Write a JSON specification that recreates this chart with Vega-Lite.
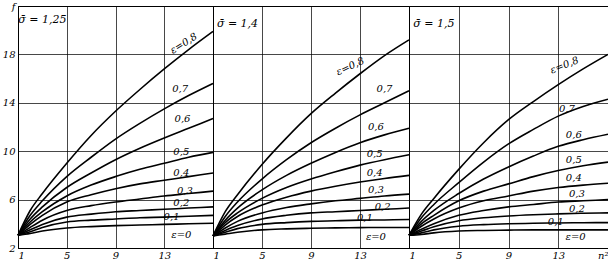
{
 "$schema": "https://vega.github.io/schema/vega-lite/v6.json",
 "padding": {"left": 1, "top": 0, "right": 1, "bottom": 0},
 "bounds": "flush",
 "background": "white",
 "spacing": 0,
 "config": {
  "view": {"stroke": "black", "strokeWidth": 1},
  "font": "DejaVu Serif",
  "axis": {"grid": true, "gridColor": "black", "gridWidth": 0.8, "gridOpacity": 0.9, "ticks": false, "domainColor": "black", "labelColor": "black", "labelFont": "DejaVu Serif", "labelFontStyle": "italic", "labelFontSize": 10, "title": null, "labelPadding": 3, "minExtent": 0},
  "axisX": {"labelPadding": 2}
 },
 "datasets": {
  "c": [
   {"p":1,"e":0.8,"x":1,"f":3.05},{"p":1,"e":0.8,"x":2,"f":5.1},{"p":1,"e":0.8,"x":3,"f":6.5},{"p":1,"e":0.8,"x":5,"f":9.0},{"p":1,"e":0.8,"x":7,"f":11.3},{"p":1,"e":0.8,"x":9,"f":13.3},{"p":1,"e":0.8,"x":11,"f":15.1},{"p":1,"e":0.8,"x":13,"f":16.8},{"p":1,"e":0.8,"x":15,"f":18.4},{"p":1,"e":0.8,"x":17,"f":19.9},
   {"p":1,"e":0.7,"x":1,"f":3.05},{"p":1,"e":0.7,"x":2,"f":4.7},{"p":1,"e":0.7,"x":3,"f":5.9},{"p":1,"e":0.7,"x":5,"f":7.9},{"p":1,"e":0.7,"x":7,"f":9.5},{"p":1,"e":0.7,"x":9,"f":11.0},{"p":1,"e":0.7,"x":11,"f":12.3},{"p":1,"e":0.7,"x":13,"f":13.5},{"p":1,"e":0.7,"x":15,"f":14.6},{"p":1,"e":0.7,"x":17,"f":15.6},
   {"p":1,"e":0.6,"x":1,"f":3.05},{"p":1,"e":0.6,"x":2,"f":4.4},{"p":1,"e":0.6,"x":3,"f":5.4},{"p":1,"e":0.6,"x":5,"f":7.0},{"p":1,"e":0.6,"x":7,"f":8.2},{"p":1,"e":0.6,"x":9,"f":9.3},{"p":1,"e":0.6,"x":11,"f":10.25},{"p":1,"e":0.6,"x":13,"f":11.1},{"p":1,"e":0.6,"x":15,"f":11.9},{"p":1,"e":0.6,"x":17,"f":12.7},
   {"p":1,"e":0.5,"x":1,"f":3.05},{"p":1,"e":0.5,"x":2,"f":4.15},{"p":1,"e":0.5,"x":3,"f":5.0},{"p":1,"e":0.5,"x":5,"f":6.3},{"p":1,"e":0.5,"x":7,"f":7.2},{"p":1,"e":0.5,"x":9,"f":7.9},{"p":1,"e":0.5,"x":11,"f":8.5},{"p":1,"e":0.5,"x":13,"f":9.0},{"p":1,"e":0.5,"x":15,"f":9.5},{"p":1,"e":0.5,"x":17,"f":9.9},
   {"p":1,"e":0.4,"x":1,"f":3.05},{"p":1,"e":0.4,"x":2,"f":3.95},{"p":1,"e":0.4,"x":3,"f":4.7},{"p":1,"e":0.4,"x":5,"f":5.8},{"p":1,"e":0.4,"x":7,"f":6.4},{"p":1,"e":0.4,"x":9,"f":6.9},{"p":1,"e":0.4,"x":11,"f":7.3},{"p":1,"e":0.4,"x":13,"f":7.6},{"p":1,"e":0.4,"x":15,"f":7.9},{"p":1,"e":0.4,"x":17,"f":8.2},
   {"p":1,"e":0.3,"x":1,"f":3.05},{"p":1,"e":0.3,"x":2,"f":3.7},{"p":1,"e":0.3,"x":3,"f":4.3},{"p":1,"e":0.3,"x":5,"f":5.1},{"p":1,"e":0.3,"x":7,"f":5.5},{"p":1,"e":0.3,"x":9,"f":5.8},{"p":1,"e":0.3,"x":11,"f":6.05},{"p":1,"e":0.3,"x":13,"f":6.3},{"p":1,"e":0.3,"x":15,"f":6.5},{"p":1,"e":0.3,"x":17,"f":6.7},
   {"p":1,"e":0.2,"x":1,"f":3.05},{"p":1,"e":0.2,"x":2,"f":3.5},{"p":1,"e":0.2,"x":3,"f":3.95},{"p":1,"e":0.2,"x":5,"f":4.55},{"p":1,"e":0.2,"x":7,"f":4.8},{"p":1,"e":0.2,"x":9,"f":5.0},{"p":1,"e":0.2,"x":11,"f":5.1},{"p":1,"e":0.2,"x":13,"f":5.2},{"p":1,"e":0.2,"x":15,"f":5.3},{"p":1,"e":0.2,"x":17,"f":5.4},
   {"p":1,"e":0.1,"x":1,"f":3.05},{"p":1,"e":0.1,"x":2,"f":3.35},{"p":1,"e":0.1,"x":3,"f":3.7},{"p":1,"e":0.1,"x":5,"f":4.15},{"p":1,"e":0.1,"x":7,"f":4.3},{"p":1,"e":0.1,"x":9,"f":4.4},{"p":1,"e":0.1,"x":11,"f":4.5},{"p":1,"e":0.1,"x":13,"f":4.55},{"p":1,"e":0.1,"x":15,"f":4.62},{"p":1,"e":0.1,"x":17,"f":4.7},
   {"p":1,"e":0,"x":1,"f":3.05},{"p":1,"e":0,"x":2,"f":3.2},{"p":1,"e":0,"x":3,"f":3.4},{"p":1,"e":0,"x":5,"f":3.65},{"p":1,"e":0,"x":7,"f":3.77},{"p":1,"e":0,"x":9,"f":3.85},{"p":1,"e":0,"x":11,"f":3.9},{"p":1,"e":0,"x":13,"f":3.95},{"p":1,"e":0,"x":15,"f":4.0},{"p":1,"e":0,"x":17,"f":4.05},

   {"p":2,"e":0.8,"x":1,"f":3.0},{"p":2,"e":0.8,"x":2,"f":5.0},{"p":2,"e":0.8,"x":3,"f":6.4},{"p":2,"e":0.8,"x":5,"f":8.9},{"p":2,"e":0.8,"x":7,"f":11.1},{"p":2,"e":0.8,"x":9,"f":13.1},{"p":2,"e":0.8,"x":11,"f":14.8},{"p":2,"e":0.8,"x":13,"f":16.4},{"p":2,"e":0.8,"x":15,"f":17.9},{"p":2,"e":0.8,"x":17,"f":19.2},
   {"p":2,"e":0.7,"x":1,"f":3.0},{"p":2,"e":0.7,"x":2,"f":4.6},{"p":2,"e":0.7,"x":3,"f":5.8},{"p":2,"e":0.7,"x":5,"f":7.7},{"p":2,"e":0.7,"x":7,"f":9.3},{"p":2,"e":0.7,"x":9,"f":10.7},{"p":2,"e":0.7,"x":11,"f":11.9},{"p":2,"e":0.7,"x":13,"f":13.0},{"p":2,"e":0.7,"x":15,"f":14.0},{"p":2,"e":0.7,"x":17,"f":15.0},
   {"p":2,"e":0.6,"x":1,"f":3.0},{"p":2,"e":0.6,"x":2,"f":4.3},{"p":2,"e":0.6,"x":3,"f":5.3},{"p":2,"e":0.6,"x":5,"f":6.8},{"p":2,"e":0.6,"x":7,"f":8.0},{"p":2,"e":0.6,"x":9,"f":9.0},{"p":2,"e":0.6,"x":11,"f":9.9},{"p":2,"e":0.6,"x":13,"f":10.7},{"p":2,"e":0.6,"x":15,"f":11.35},{"p":2,"e":0.6,"x":17,"f":11.9},
   {"p":2,"e":0.5,"x":1,"f":3.0},{"p":2,"e":0.5,"x":2,"f":4.1},{"p":2,"e":0.5,"x":3,"f":4.9},{"p":2,"e":0.5,"x":5,"f":6.1},{"p":2,"e":0.5,"x":7,"f":7.0},{"p":2,"e":0.5,"x":9,"f":7.7},{"p":2,"e":0.5,"x":11,"f":8.3},{"p":2,"e":0.5,"x":13,"f":8.85},{"p":2,"e":0.5,"x":15,"f":9.3},{"p":2,"e":0.5,"x":17,"f":9.7},
   {"p":2,"e":0.4,"x":1,"f":3.0},{"p":2,"e":0.4,"x":2,"f":3.9},{"p":2,"e":0.4,"x":3,"f":4.6},{"p":2,"e":0.4,"x":5,"f":5.55},{"p":2,"e":0.4,"x":7,"f":6.2},{"p":2,"e":0.4,"x":9,"f":6.7},{"p":2,"e":0.4,"x":11,"f":7.1},{"p":2,"e":0.4,"x":13,"f":7.45},{"p":2,"e":0.4,"x":15,"f":7.75},{"p":2,"e":0.4,"x":17,"f":8.0},
   {"p":2,"e":0.3,"x":1,"f":3.0},{"p":2,"e":0.3,"x":2,"f":3.65},{"p":2,"e":0.3,"x":3,"f":4.2},{"p":2,"e":0.3,"x":5,"f":4.9},{"p":2,"e":0.3,"x":7,"f":5.35},{"p":2,"e":0.3,"x":9,"f":5.65},{"p":2,"e":0.3,"x":11,"f":5.9},{"p":2,"e":0.3,"x":13,"f":6.1},{"p":2,"e":0.3,"x":15,"f":6.3},{"p":2,"e":0.3,"x":17,"f":6.45},
   {"p":2,"e":0.2,"x":1,"f":3.0},{"p":2,"e":0.2,"x":2,"f":3.45},{"p":2,"e":0.2,"x":3,"f":3.85},{"p":2,"e":0.2,"x":5,"f":4.4},{"p":2,"e":0.2,"x":7,"f":4.7},{"p":2,"e":0.2,"x":9,"f":4.9},{"p":2,"e":0.2,"x":11,"f":5.0},{"p":2,"e":0.2,"x":13,"f":5.1},{"p":2,"e":0.2,"x":15,"f":5.2},{"p":2,"e":0.2,"x":17,"f":5.3},
   {"p":2,"e":0.1,"x":1,"f":3.0},{"p":2,"e":0.1,"x":2,"f":3.3},{"p":2,"e":0.1,"x":3,"f":3.6},{"p":2,"e":0.1,"x":5,"f":3.95},{"p":2,"e":0.1,"x":7,"f":4.1},{"p":2,"e":0.1,"x":9,"f":4.2},{"p":2,"e":0.1,"x":11,"f":4.25},{"p":2,"e":0.1,"x":13,"f":4.3},{"p":2,"e":0.1,"x":15,"f":4.32},{"p":2,"e":0.1,"x":17,"f":4.35},
   {"p":2,"e":0,"x":1,"f":3.0},{"p":2,"e":0,"x":2,"f":3.15},{"p":2,"e":0,"x":3,"f":3.3},{"p":2,"e":0,"x":5,"f":3.5},{"p":2,"e":0,"x":7,"f":3.58},{"p":2,"e":0,"x":9,"f":3.63},{"p":2,"e":0,"x":11,"f":3.66},{"p":2,"e":0,"x":13,"f":3.68},{"p":2,"e":0,"x":15,"f":3.7},{"p":2,"e":0,"x":17,"f":3.7},

   {"p":3,"e":0.8,"x":1,"f":3.05},{"p":3,"e":0.8,"x":2,"f":4.8},{"p":3,"e":0.8,"x":3,"f":6.1},{"p":3,"e":0.8,"x":5,"f":8.5},{"p":3,"e":0.8,"x":7,"f":10.7},{"p":3,"e":0.8,"x":9,"f":12.6},{"p":3,"e":0.8,"x":11,"f":14.1},{"p":3,"e":0.8,"x":13,"f":15.5},{"p":3,"e":0.8,"x":15,"f":16.8},{"p":3,"e":0.8,"x":17,"f":18.0},
   {"p":3,"e":0.7,"x":1,"f":3.05},{"p":3,"e":0.7,"x":2,"f":4.5},{"p":3,"e":0.7,"x":3,"f":5.6},{"p":3,"e":0.7,"x":5,"f":7.4},{"p":3,"e":0.7,"x":7,"f":9.1},{"p":3,"e":0.7,"x":9,"f":10.6},{"p":3,"e":0.7,"x":11,"f":11.8},{"p":3,"e":0.7,"x":13,"f":12.9},{"p":3,"e":0.7,"x":15,"f":13.7},{"p":3,"e":0.7,"x":17,"f":14.3},
   {"p":3,"e":0.6,"x":1,"f":3.05},{"p":3,"e":0.6,"x":2,"f":4.2},{"p":3,"e":0.6,"x":3,"f":5.1},{"p":3,"e":0.6,"x":5,"f":6.5},{"p":3,"e":0.6,"x":7,"f":7.7},{"p":3,"e":0.6,"x":9,"f":8.7},{"p":3,"e":0.6,"x":11,"f":9.6},{"p":3,"e":0.6,"x":13,"f":10.4},{"p":3,"e":0.6,"x":15,"f":10.95},{"p":3,"e":0.6,"x":17,"f":11.4},
   {"p":3,"e":0.5,"x":1,"f":3.05},{"p":3,"e":0.5,"x":2,"f":4.0},{"p":3,"e":0.5,"x":3,"f":4.7},{"p":3,"e":0.5,"x":5,"f":5.9},{"p":3,"e":0.5,"x":7,"f":6.7},{"p":3,"e":0.5,"x":9,"f":7.3},{"p":3,"e":0.5,"x":11,"f":7.9},{"p":3,"e":0.5,"x":13,"f":8.4},{"p":3,"e":0.5,"x":15,"f":8.8},{"p":3,"e":0.5,"x":17,"f":9.1},
   {"p":3,"e":0.4,"x":1,"f":3.05},{"p":3,"e":0.4,"x":2,"f":3.8},{"p":3,"e":0.4,"x":3,"f":4.4},{"p":3,"e":0.4,"x":5,"f":5.3},{"p":3,"e":0.4,"x":7,"f":5.9},{"p":3,"e":0.4,"x":9,"f":6.3},{"p":3,"e":0.4,"x":11,"f":6.7},{"p":3,"e":0.4,"x":13,"f":7.0},{"p":3,"e":0.4,"x":15,"f":7.2},{"p":3,"e":0.4,"x":17,"f":7.35},
   {"p":3,"e":0.3,"x":1,"f":3.05},{"p":3,"e":0.3,"x":2,"f":3.55},{"p":3,"e":0.3,"x":3,"f":4.0},{"p":3,"e":0.3,"x":5,"f":4.7},{"p":3,"e":0.3,"x":7,"f":5.1},{"p":3,"e":0.3,"x":9,"f":5.4},{"p":3,"e":0.3,"x":11,"f":5.6},{"p":3,"e":0.3,"x":13,"f":5.8},{"p":3,"e":0.3,"x":15,"f":5.9},{"p":3,"e":0.3,"x":17,"f":6.0},
   {"p":3,"e":0.2,"x":1,"f":3.05},{"p":3,"e":0.2,"x":2,"f":3.4},{"p":3,"e":0.2,"x":3,"f":3.75},{"p":3,"e":0.2,"x":5,"f":4.25},{"p":3,"e":0.2,"x":7,"f":4.5},{"p":3,"e":0.2,"x":9,"f":4.65},{"p":3,"e":0.2,"x":11,"f":4.75},{"p":3,"e":0.2,"x":13,"f":4.82},{"p":3,"e":0.2,"x":15,"f":4.87},{"p":3,"e":0.2,"x":17,"f":4.9},
   {"p":3,"e":0.1,"x":1,"f":3.05},{"p":3,"e":0.1,"x":2,"f":3.25},{"p":3,"e":0.1,"x":3,"f":3.5},{"p":3,"e":0.1,"x":5,"f":3.8},{"p":3,"e":0.1,"x":7,"f":3.93},{"p":3,"e":0.1,"x":9,"f":4.0},{"p":3,"e":0.1,"x":11,"f":4.04},{"p":3,"e":0.1,"x":13,"f":4.07},{"p":3,"e":0.1,"x":15,"f":4.09},{"p":3,"e":0.1,"x":17,"f":4.1},
   {"p":3,"e":0,"x":1,"f":3.05},{"p":3,"e":0,"x":2,"f":3.12},{"p":3,"e":0,"x":3,"f":3.25},{"p":3,"e":0,"x":5,"f":3.4},{"p":3,"e":0,"x":7,"f":3.45},{"p":3,"e":0,"x":9,"f":3.48},{"p":3,"e":0,"x":11,"f":3.5},{"p":3,"e":0,"x":13,"f":3.5},{"p":3,"e":0,"x":15,"f":3.5},{"p":3,"e":0,"x":17,"f":3.5}
  ],
  "l": [
   {"p":1,"e":0.8,"t":"ε=0,8","x":14.6,"f":18.9},{"p":1,"e":0.7,"t":"0,7","x":14.3,"f":15.1},{"p":1,"e":0.6,"t":"0,6","x":14.5,"f":12.65},{"p":1,"e":0.5,"t":"0,5","x":14.4,"f":9.9},{"p":1,"e":0.4,"t":"0,4","x":14.4,"f":8.2},{"p":1,"e":0.3,"t":"0,3","x":14.7,"f":6.75},{"p":1,"e":0.2,"t":"0,2","x":14.4,"f":5.7},{"p":1,"e":0.1,"t":"0,1","x":13.6,"f":4.6},{"p":1,"e":0,"t":"ε=0","x":14.4,"f":3.1},
   {"p":2,"e":0.8,"t":"ε=0,8","x":12.2,"f":17.0},{"p":2,"e":0.7,"t":"0,7","x":15.0,"f":15.1},{"p":2,"e":0.6,"t":"0,6","x":14.3,"f":12.0},{"p":2,"e":0.5,"t":"0,5","x":14.2,"f":9.8},{"p":2,"e":0.4,"t":"0,4","x":14.2,"f":8.2},{"p":2,"e":0.3,"t":"0,3","x":14.3,"f":6.8},{"p":2,"e":0.2,"t":"0,2","x":14.85,"f":5.4},{"p":2,"e":0.1,"t":"0,1","x":13.4,"f":4.45},{"p":2,"e":0,"t":"ε=0","x":14.3,"f":2.95},
   {"p":3,"e":0.8,"t":"ε=0,8","x":13.5,"f":17.1},{"p":3,"e":0.7,"t":"0,7","x":13.7,"f":13.5},{"p":3,"e":0.6,"t":"0,6","x":14.25,"f":11.3},{"p":3,"e":0.5,"t":"0,5","x":14.25,"f":9.3},{"p":3,"e":0.4,"t":"0,4","x":14.25,"f":7.8},{"p":3,"e":0.3,"t":"0,3","x":14.5,"f":6.5},{"p":3,"e":0.2,"t":"0,2","x":14.5,"f":5.2},{"p":3,"e":0.1,"t":"0,1","x":12.8,"f":4.15},{"p":3,"e":0,"t":"ε=0","x":14.4,"f":2.9}
  ],
  "t": [
   {"p":1,"t":"σ̄ = 1,25","x":3.0,"f":20.85},
   {"p":2,"t":"σ̄ = 1,4","x":3.0,"f":20.5},
   {"p":3,"t":"σ̄ = 1,5","x":3.0,"f":20.5}
  ]
 },
 "hconcat": [
  {
   "width": 195, "height": 242,
   "layer": [
    {"data": {"name": "c"}, "transform": [{"filter": "datum.p==1"}],
     "mark": {"type": "line", "interpolate": "monotone", "color": "black", "strokeWidth": 1.6},
     "encoding": {
      "x": {"field": "x", "type": "quantitative", "scale": {"domain": [1, 17], "nice": false, "zero": false}, "axis": {"values": [1, 5, 9, 13]}},
      "y": {"field": "f", "type": "quantitative", "scale": {"domain": [2, 22], "nice": false, "zero": false}, "axis": {"values": [2, 6, 10, 14, 18, 22], "labelExpr": "datum.value == 22 ? 'f' : datum.label", "labelFlush": false, "minExtent": 15, "maxExtent": 15}},
      "detail": {"field": "e"}}},
    {"data": {"name": "l"}, "transform": [{"filter": "datum.p==1 && datum.e != 0.8"}],
     "mark": {"type": "text", "fontStyle": "italic", "fontSize": 10, "color": "black"},
     "encoding": {"x": {"field": "x", "type": "quantitative"}, "y": {"field": "f", "type": "quantitative"}, "text": {"field": "t"}}},
    {"data": {"name": "l"}, "transform": [{"filter": "datum.p==1 && datum.e == 0.8"}],
     "mark": {"type": "text", "fontStyle": "italic", "fontSize": 10, "color": "black", "angle": -32},
     "encoding": {"x": {"field": "x", "type": "quantitative"}, "y": {"field": "f", "type": "quantitative"}, "text": {"field": "t"}}},
    {"data": {"name": "t"}, "transform": [{"filter": "datum.p==1"}],
     "mark": {"type": "text", "fontStyle": "italic", "fontSize": 11, "color": "black"},
     "encoding": {"x": {"field": "x", "type": "quantitative"}, "y": {"field": "f", "type": "quantitative"}, "text": {"field": "t"}}}
   ]
  },
  {
   "width": 196, "height": 242,
   "layer": [
    {"data": {"name": "c"}, "transform": [{"filter": "datum.p==2"}],
     "mark": {"type": "line", "interpolate": "monotone", "color": "black", "strokeWidth": 1.6},
     "encoding": {
      "x": {"field": "x", "type": "quantitative", "scale": {"domain": [1, 17], "nice": false, "zero": false}, "axis": {"values": [1, 5, 9, 13]}},
      "y": {"field": "f", "type": "quantitative", "scale": {"domain": [2, 22], "nice": false, "zero": false}, "axis": {"values": [6, 10, 14, 18], "labels": false, "domain": false}},
      "detail": {"field": "e"}}},
    {"data": {"name": "l"}, "transform": [{"filter": "datum.p==2 && datum.e != 0.8"}],
     "mark": {"type": "text", "fontStyle": "italic", "fontSize": 10, "color": "black"},
     "encoding": {"x": {"field": "x", "type": "quantitative"}, "y": {"field": "f", "type": "quantitative"}, "text": {"field": "t"}}},
    {"data": {"name": "l"}, "transform": [{"filter": "datum.p==2 && datum.e == 0.8"}],
     "mark": {"type": "text", "fontStyle": "italic", "fontSize": 10, "color": "black", "angle": -25},
     "encoding": {"x": {"field": "x", "type": "quantitative"}, "y": {"field": "f", "type": "quantitative"}, "text": {"field": "t"}}},
    {"data": {"name": "t"}, "transform": [{"filter": "datum.p==2"}],
     "mark": {"type": "text", "fontStyle": "italic", "fontSize": 11, "color": "black"},
     "encoding": {"x": {"field": "x", "type": "quantitative"}, "y": {"field": "f", "type": "quantitative"}, "text": {"field": "t"}}}
   ]
  },
  {
   "width": 199, "height": 242,
   "layer": [
    {"data": {"name": "c"}, "transform": [{"filter": "datum.p==3"}],
     "mark": {"type": "line", "interpolate": "monotone", "color": "black", "strokeWidth": 1.6},
     "encoding": {
      "x": {"field": "x", "type": "quantitative", "scale": {"domain": [1, 17], "nice": false, "zero": false}, "axis": {"values": [1, 5, 9, 13, 17], "labelExpr": "datum.value == 17 ? 'n²' : datum.label", "labelFlush": true}},
      "y": {"field": "f", "type": "quantitative", "scale": {"domain": [2, 22], "nice": false, "zero": false}, "axis": {"values": [6, 10, 14, 18], "labels": false, "domain": false}},
      "detail": {"field": "e"}}},
    {"data": {"name": "l"}, "transform": [{"filter": "datum.p==3 && datum.e != 0.8"}],
     "mark": {"type": "text", "fontStyle": "italic", "fontSize": 10, "color": "black"},
     "encoding": {"x": {"field": "x", "type": "quantitative"}, "y": {"field": "f", "type": "quantitative"}, "text": {"field": "t"}}},
    {"data": {"name": "l"}, "transform": [{"filter": "datum.p==3 && datum.e == 0.8"}],
     "mark": {"type": "text", "fontStyle": "italic", "fontSize": 10, "color": "black", "angle": -22},
     "encoding": {"x": {"field": "x", "type": "quantitative"}, "y": {"field": "f", "type": "quantitative"}, "text": {"field": "t"}}},
    {"data": {"name": "t"}, "transform": [{"filter": "datum.p==3"}],
     "mark": {"type": "text", "fontStyle": "italic", "fontSize": 11, "color": "black"},
     "encoding": {"x": {"field": "x", "type": "quantitative"}, "y": {"field": "f", "type": "quantitative"}, "text": {"field": "t"}}}
   ]
  }
 ]
}
